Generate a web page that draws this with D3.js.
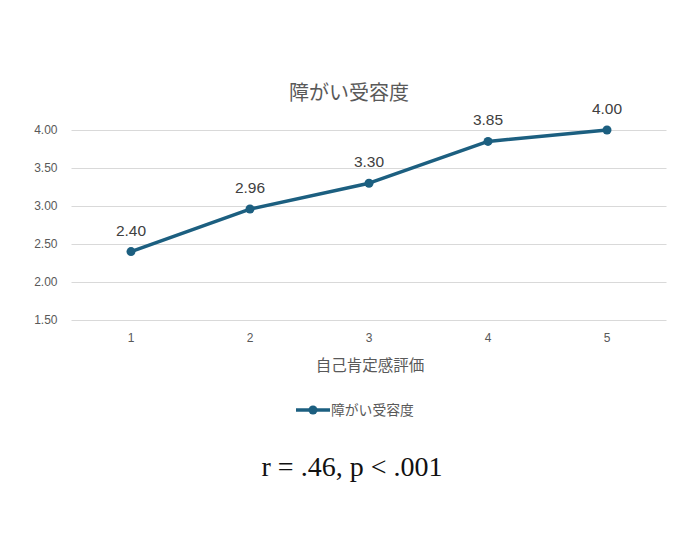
<!DOCTYPE html>
<html><head><meta charset="utf-8">
<script src="https://cdn.jsdelivr.net/npm/d3@7"></script>
<style>body{margin:0;background:#fff;} svg{display:block;}</style>
</head><body><svg id="c" width="699" height="553"></svg>
<script>
const categories = ["1","2","3","4","5"];
const values = [2.40, 2.96, 3.30, 3.85, 4.00];
const yTicks = [1.5, 2.0, 2.5, 3.0, 3.5, 4.0];
const seriesName = "障がい受容度";
const xTitle = "自己肯定感評価";
const note = "r = .46, p < .001";

(function(){
const svg = d3.select("#c");
const W = 699, H = 553;
const pL = 71.5, pR = 666.5, pT = 130, pB = 320;
const x = d3.scaleBand().domain(categories).range([pL, pR]);
const y = d3.scaleLinear().domain([1.5, 4.0]).range([pB, pT]);
const color = "#1c5f80";
const jp = "'Noto Sans CJK JP', 'Noto Sans', sans-serif";
const lat = "'Liberation Sans', Arial, sans-serif";

svg.append("rect").attr("width", W).attr("height", H).attr("fill", "#fff");

svg.append("text").attr("x", 349).attr("y", 100).attr("text-anchor", "middle")
  .attr("font-family", jp).attr("font-size", 20).attr("fill", "#595959").text(seriesName);

const yAxis = d3.axisLeft(y).tickValues(yTicks).tickFormat(d3.format(".2f")).tickSize(-(pR-pL)).tickPadding(14);
const gy = svg.append("g").attr("transform", `translate(${pL},0)`).call(yAxis);
gy.select(".domain").remove();
gy.selectAll("line").attr("stroke", "#d9d9d9").attr("stroke-width", 1);
gy.selectAll("text").attr("font-family", lat).attr("font-size", 12).attr("fill", "#595959");

const xAxis = d3.axisBottom(x).tickSize(0).tickPadding(13);
const gx = svg.append("g").attr("transform", `translate(0,${pB})`).call(xAxis);
gx.select(".domain").remove();
gx.selectAll("text").attr("font-family", lat).attr("font-size", 12).attr("fill", "#595959");

svg.append("text").attr("x", 370).attr("y", 371).attr("text-anchor", "middle")
  .attr("font-family", jp).attr("font-size", 15.5).attr("fill", "#595959").text(xTitle);

const cx = d => x(d) + x.bandwidth()/2;
const line = d3.line().x((d,i) => cx(categories[i])).y(d => y(d));
svg.append("path").datum(values).attr("d", line).attr("fill", "none")
  .attr("stroke", color).attr("stroke-width", 3.5).attr("stroke-linejoin", "round").attr("stroke-linecap", "round");
svg.selectAll("circle.pt").data(values).join("circle").attr("class","pt")
  .attr("cx", (d,i) => cx(categories[i])).attr("cy", d => y(d)).attr("r", 4.5).attr("fill", color);
svg.selectAll("text.lbl").data(values).join("text").attr("class","lbl")
  .attr("x", (d,i) => cx(categories[i])).attr("y", d => y(d) - 16).attr("text-anchor", "middle")
  .attr("font-family", lat).attr("font-size", 15.5).attr("fill", "#404040").text(d => d3.format(".2f")(d));

const lg = svg.append("g");
lg.append("line").attr("x1", 296).attr("x2", 330).attr("y1", 410).attr("y2", 410)
  .attr("stroke", color).attr("stroke-width", 3.5);
lg.append("circle").attr("cx", 313).attr("cy", 410).attr("r", 4.5).attr("fill", color);
lg.append("text").attr("x", 331).attr("y", 415).attr("font-family", jp).attr("font-size", 13.8)
  .attr("fill", "#595959").text(seriesName);

svg.append("text").attr("x", 352).attr("y", 476).attr("text-anchor", "middle")
  .attr("font-family", "'Liberation Serif', 'DejaVu Serif', serif").attr("font-size", 28).attr("fill", "#111").text(note);
})();
</script></body></html>
